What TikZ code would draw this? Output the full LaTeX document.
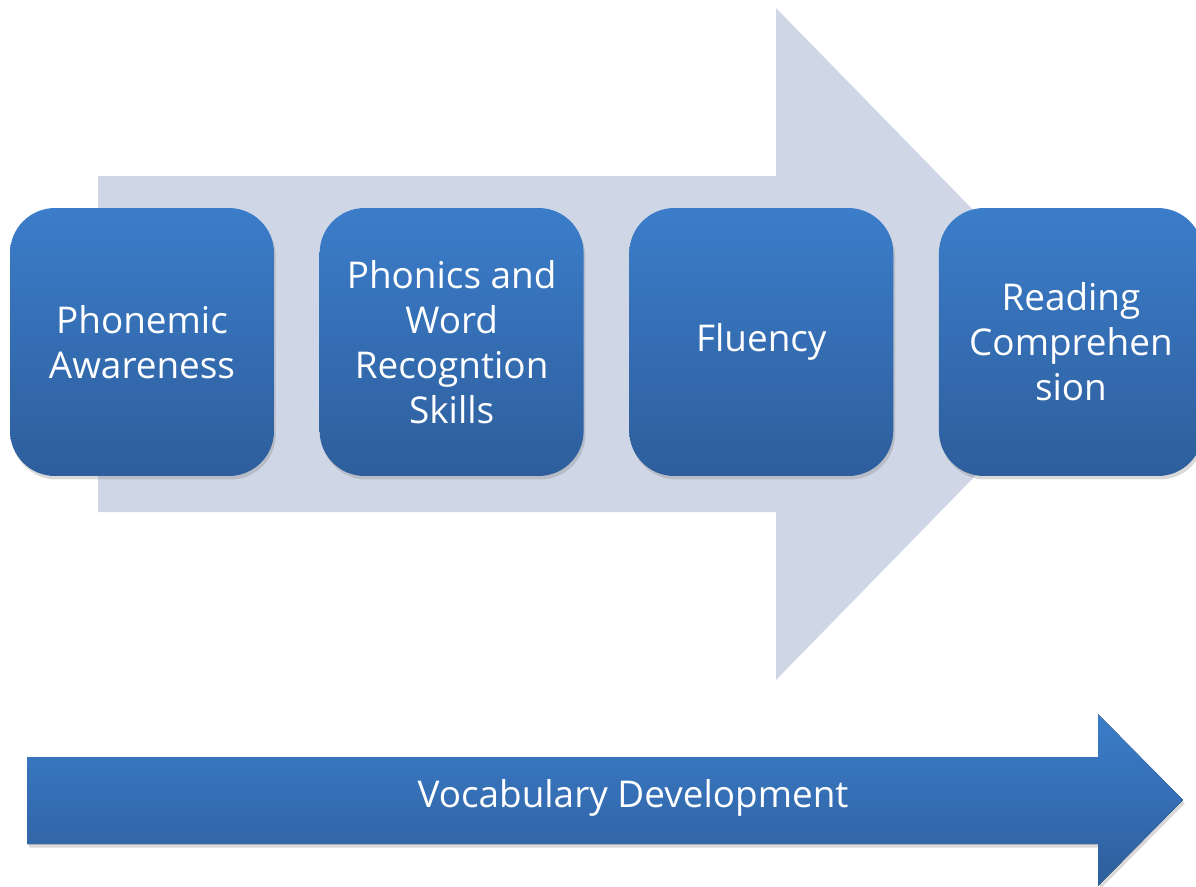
\documentclass[tikz,border=0pt]{standalone}
\usepackage{fontspec}
\setmainfont{Open Sans}
\usetikzlibrary{
	positioning,
	shadows
}
\definecolor{stagetop}{HTML}{3B7DCA}
\definecolor{stagebot}{HTML}{2E5E9C}
\definecolor{flowbg}{HTML}{CFD7E6}
\tikzset{
	stage/.style={
		rectangle,
		rounded corners=0.9cm,
		minimum width=5.28cm,
		minimum height=5.36cm,
		top color=stagetop,
		bottom color=stagebot,
		text=white,
		align=center,
		font=\fontsize{21}{25.6}\selectfont,
		drop shadow={opacity=0.3,shadow xshift=1pt,shadow yshift=-2pt}
	},
	band/.style={
		top color=stagetop,
		bottom color=stagebot,
		drop shadow={opacity=0.3,shadow xshift=1pt,shadow yshift=-2pt}
	}
}

\begin{document}
\begin{tikzpicture}[x=0.02cm,y=-0.02cm]
		\useasboundingbox (0,0) rectangle (1196,886);

		% big light arrow behind the stages
		\fill[flowbg] (98,176) -- (776,176) -- (776,8) -- (1104,344)
			-- (776,680) -- (776,512) -- (98,512) -- cycle;

		\node[stage]                (pa) at (142,342) {Phonemic\\Awareness};
		\node[stage,right=0.9cm of pa] (pw) {Phonics and\\Word\\Recogntion\\Skills};
		\node[stage,right=0.9cm of pw] (fl) {Fluency};
		\node[stage,right=0.9cm of fl] (rc) {Reading\\Comprehen\\sion};

		% vocabulary arrow
		\fill[band] (27,757) -- (1098,757) -- (1098,714) -- (1183,800)
			-- (1098,886) -- (1098,844) -- (27,844) -- cycle;
		\node[text=white,font=\fontsize{21}{25.6}\selectfont] (vd) at (633,798) {Vocabulary Development};
	\end{tikzpicture}
\end{document}
